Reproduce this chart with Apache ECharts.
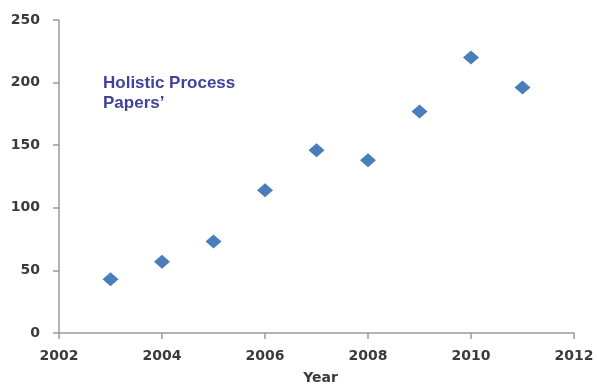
<!DOCTYPE html>
<html>
<head>
<meta charset="utf-8">
<script src="https://cdn.jsdelivr.net/npm/echarts@6/dist/echarts.min.js"></script>
<style>
  html, body { margin: 0; padding: 0; background: #fff; }
  #chart { width: 597px; height: 384px; }
</style>
</head>
<body>
<div id="chart"></div>
<script>
// Publications per year
const years = [2003, 2004, 2005, 2006, 2007, 2008, 2009, 2010, 2011];
const papers = [43, 57, 73, 114, 146, 138, 177, 220, 196];

const xTicks = { min: 2002, max: 2012, step: 2 };
const yTicks = { min: 0, max: 250, step: 50 };

const chart = echarts.init(document.getElementById('chart'), null, { renderer: 'canvas' });

const axisFont = { fontFamily: 'DejaVu Sans', fontWeight: 'bold', fontSize: 14, color: '#3a3a3a' };

chart.setOption({
  animation: false,
  backgroundColor: '#ffffff',
  title: {
    text: 'Holistic Process\nPapers\u2019',
    left: 103,
    top: 73,
    padding: 0,
    textStyle: {
      fontFamily: 'Liberation Sans',
      fontWeight: 'bold',
      fontSize: 17,
      lineHeight: 20,
      color: '#42429c'
    }
  },
  grid: { left: 59, right: 23, top: 20, bottom: 51, containLabel: false, outerBoundsMode: 'none' },
  xAxis: {
    type: 'value',
    min: xTicks.min,
    max: xTicks.max,
    interval: xTicks.step,
    name: 'Year',
    nameLocation: 'middle',
    nameGap: 38,
    nameTextStyle: Object.assign({}, axisFont, { padding: [0, 0, 0, 8] }),
    splitLine: { show: false },
    axisLine: { show: true, lineStyle: { color: '#9a9a9a', width: 1.5 } },
    axisTick: { show: true, length: 6, lineStyle: { color: '#9a9a9a', width: 1.5 } },
    axisLabel: Object.assign({ margin: 16, formatter: v => String(v) }, axisFont)
  },
  yAxis: {
    type: 'value',
    min: yTicks.min,
    max: yTicks.max,
    interval: yTicks.step,
    splitLine: { show: false },
    axisLine: { show: true, lineStyle: { color: '#9a9a9a', width: 1.5 } },
    axisTick: { show: true, length: 6, lineStyle: { color: '#9a9a9a', width: 1.5 } },
    axisLabel: Object.assign({ margin: 19 }, axisFont)
  },
  series: [{
    type: 'scatter',
    symbol: 'diamond',
    symbolSize: [16, 14],
    itemStyle: { color: '#4a7ebb', opacity: 1 },
    data: years.map((y, i) => [y, papers[i]])
  }]
});
</script>
</body>
</html>
